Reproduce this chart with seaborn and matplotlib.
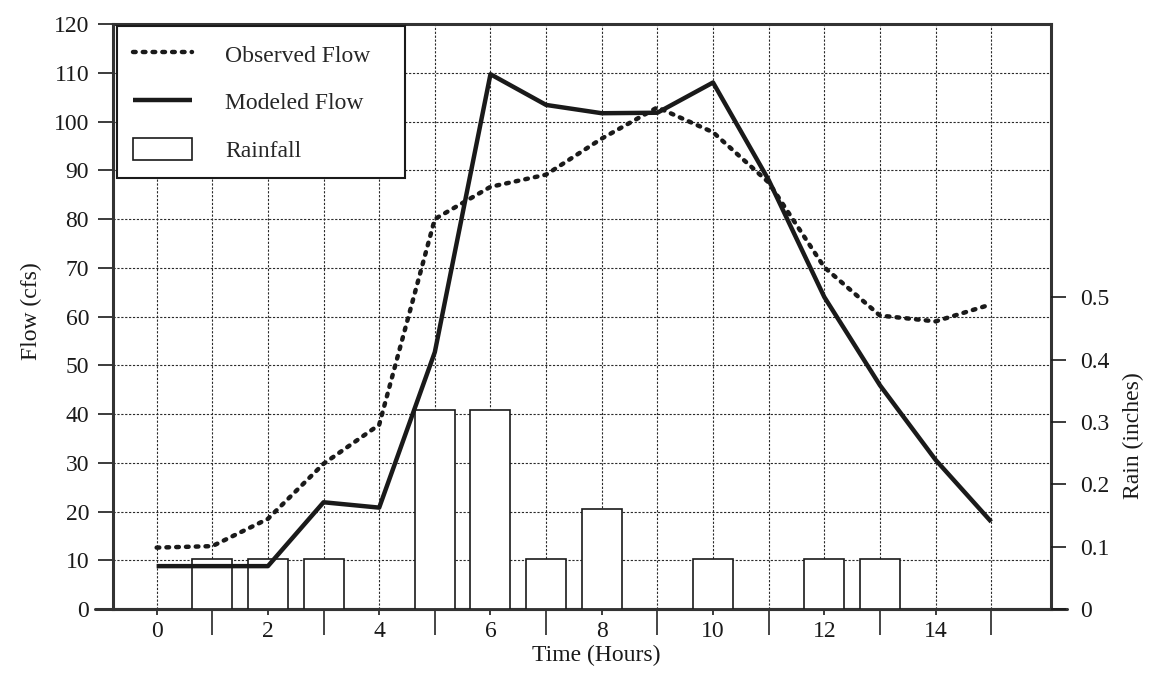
import seaborn as sns
import matplotlib.pyplot as plt
from matplotlib.patches import Patch

# data
hours = [0, 1, 2, 3, 4, 5, 6, 7, 8, 9, 10, 11, 12, 13, 14, 15]
observed_flow = [12.6, 12.9, 18.5, 29.8, 37.8, 80.0, 86.6, 89.1, 96.5, 102.9,
                 97.8, 87.5, 70.1, 60.2, 59.0, 62.5]
modeled_flow = [8.8, 8.8, 8.8, 21.9, 20.8, 52.7, 109.7, 103.4, 101.7, 101.8,
                108.0, 88.0, 64.0, 45.9, 30.6, 17.9]
rain_hours = [1, 2, 3, 5, 6, 7, 8, 10, 12, 13]
rain_inches = [0.08, 0.08, 0.08, 0.32, 0.32, 0.08, 0.16, 0.08, 0.08, 0.08]

flow_ticks = list(range(0, 121, 10))
rain_ticks = [0, 0.1, 0.2, 0.3, 0.4, 0.5]
time_labels = list(range(0, 16, 2))
time_minor = list(range(1, 16, 2))

sns.set_style("white")
plt.rcParams['font.family'] = ['Liberation Serif', 'DejaVu Serif']
ink = '#1a1a1a'
fs = 17

fig = plt.figure(figsize=(11.51, 6.86), dpi=100)
ax = fig.add_axes([0.0979, 0.1122, 0.8150, 0.8528])
ax2 = ax.twinx()   # rainfall bars
ax3 = ax.twinx()   # flow lines on top of the bars

sns.barplot(x=rain_hours, y=rain_inches, native_scale=True, width=0.72,
            color='white', saturation=1, edgecolor=ink, linewidth=1.2,
            errorbar=None, ax=ax2)

sns.lineplot(x=hours, y=observed_flow, ax=ax3, color=ink, linewidth=3.2,
             linestyle=(0, (0.6, 1.6)), dash_capstyle='round')
sns.lineplot(x=hours, y=modeled_flow, ax=ax3, color=ink, linewidth=3.2,
             solid_capstyle='butt')

for a in (ax, ax2, ax3):
    a.set_xlim(-0.79, 16.07)
ax.set_ylim(0, 120)
ax3.set_ylim(0, 120)
ax2.set_ylim(0, 0.9387)

ax.set_xticks(time_labels)
ax.set_xticklabels([str(t) for t in time_labels])
ax.set_xticks(time_minor, minor=True)
ax.set_yticks(flow_ticks)
ax.grid(True, which='both', axis='x', color='#2a2a2a', linestyle=(0, (2, 1.5)), linewidth=0.8)
ax.grid(True, which='major', axis='y', color='#2a2a2a', linestyle=(0, (2, 1.5)), linewidth=0.8)

ax.tick_params(axis='x', which='major', direction='out', length=4.5, width=1.2,
               pad=4, labelsize=fs, colors=ink, bottom=True)
ax.tick_params(axis='x', which='minor', direction='out', length=19, width=1.2,
               bottom=True)
ax.tick_params(axis='y', direction='out', length=11, width=1.2, pad=6,
               labelsize=fs, colors=ink, left=True)

ax2.set_yticks(rain_ticks)
ax2.set_yticklabels([f"{t:g}" for t in rain_ticks])
ax2.tick_params(axis='y', direction='out', length=11, width=1.2, pad=10,
                labelsize=fs, colors=ink, right=True)
ax3.set_yticks([])
ax3.set_ylabel('')
ax2.set_xlabel('')
ax3.set_xlabel('')

for a in (ax2, ax3):
    for s in a.spines.values():
        s.set_visible(False)
for s in ax.spines.values():
    s.set_visible(True)
    s.set_linewidth(2.2)
    s.set_color('#333333')

# bottom axis line runs a little past both spines in the original
ax.plot([-0.019, 1.017], [0, 0], transform=ax.transAxes, clip_on=False,
        color='#333333', linewidth=2.2)

ax.set_xlabel('Time (Hours)', fontsize=fs, color=ink)
ax.xaxis.set_label_coords(0.515, -0.062)
ax.set_ylabel('Flow (cfs)', fontsize=fs, color=ink)
ax.yaxis.set_label_coords(-0.075, 0.51)
ax2.set_ylabel('Rain (inches)', fontsize=fs, color=ink)
ax2.yaxis.set_label_coords(1.077, 0.297)

handles = [ax3.lines[0], ax3.lines[1],
           Patch(facecolor='white', edgecolor=ink, linewidth=1.2)]
leg = ax3.legend(handles, ['Observed Flow', 'Modeled Flow', 'Rainfall'],
                 loc='upper left', bbox_to_anchor=(0.0043, 0.9966 - 0.268, 0.307, 0.268),
                 mode='expand', fontsize=fs, frameon=True, fancybox=False,
                 framealpha=1, edgecolor=ink, borderpad=0.7, labelspacing=0.98,
                 handlelength=2.5, handleheight=1.1, handletextpad=1.4,
                 borderaxespad=0)
leg.get_frame().set_linewidth(1.5)

plt.savefig('out.png', dpi=100)
